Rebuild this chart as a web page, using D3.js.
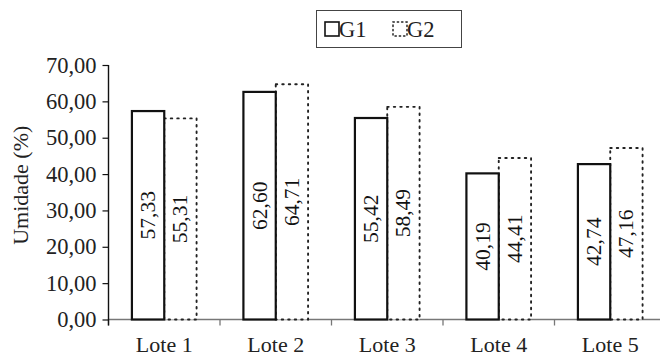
<!DOCTYPE html>
<html>
<head>
<meta charset="utf-8">
<script src="https://cdn.jsdelivr.net/npm/d3@7"></script>
<style>
  html, body { margin: 0; padding: 0; background: #fff; }
  svg { display: block; }
  svg text { font-family: "Liberation Serif", "Times New Roman", "DejaVu Serif", serif; }
</style>
</head>
<body>
<svg id="chart" width="660" height="358"></svg>
<script>
// Moisture per batch, two groups
const categories = ["Lote 1", "Lote 2", "Lote 3", "Lote 4", "Lote 5"];
const seriesNames = ["G1", "G2"];
const g1Values = [57.33, 62.60, 55.42, 40.19, 42.74];
const g2Values = [55.31, 64.71, 58.49, 44.41, 47.16];
const yTicks = [0, 10, 20, 30, 40, 50, 60, 70];
const yTitle = "Umidade (%)";

const ptBR = d3.formatLocale({ decimal: ",", thousands: ".", grouping: [3], currency: ["R$", ""] });
const fmt = ptBR.format(".2f");

const svg = d3.select("#chart");
const plotLeft = 108.5, plotBottom = 319.5, plotTop = 65;
const step = 111.5;
const plotRight = plotLeft + step * categories.length;

const x0 = d3.scaleBand().domain(categories).range([plotLeft, plotRight])
  .paddingInner(0.42).paddingOuter(0.21);
const x1 = d3.scaleBand().domain(seriesNames).range([0, x0.bandwidth()]);
const y = d3.scaleLinear().domain([0, 70]).range([plotBottom, plotTop]);

const rows = categories.map((c, i) => ({ cat: c, G1: g1Values[i], G2: g2Values[i] }));

const styles = {
  G1: { stroke: "#111", width: 2.2, dash: null },
  G2: { stroke: "#222", width: 1.9, dash: "1.5,5" }
};

// x axis line and boundary ticks
svg.append("line")
  .attr("x1", plotLeft).attr("x2", plotRight)
  .attr("y1", plotBottom).attr("y2", plotBottom)
  .attr("stroke", "#777").attr("stroke-width", 1.6);
const bounds = d3.range(categories.length + 1).map(i => plotLeft + i * step);
svg.selectAll("line.xt").data(bounds).join("line")
  .attr("class", "xt")
  .attr("x1", d => d).attr("x2", d => d)
  .attr("y1", plotBottom).attr("y2", plotBottom + 6)
  .attr("stroke", "#777").attr("stroke-width", 1.3);

// bars
const groups = svg.selectAll("g.cat").data(rows).join("g")
  .attr("class", "cat")
  .attr("transform", d => `translate(${x0(d.cat)},0)`);

seriesNames.slice().reverse().forEach(s => {
  groups.append("rect")
    .attr("x", x1(s))
    .attr("y", d => y(d[s]))
    .attr("width", x1.bandwidth())
    .attr("height", d => y(0) - y(d[s]))
    .attr("fill", "#fff")
    .attr("stroke", styles[s].stroke)
    .attr("stroke-width", styles[s].width)
    .attr("stroke-dasharray", styles[s].dash)
    .attr("stroke-linecap", s === "G2" ? "round" : "butt");
});

// value labels inside the bars
seriesNames.forEach(s => {
  groups.append("text")
    .attr("transform", d => `translate(${x1(s) + x1.bandwidth() / 2},${(y(d[s]) + y(0)) / 2}) rotate(-90)`)
    .attr("text-anchor", "middle")
    .attr("dominant-baseline", "central")
    .attr("font-size", 21.5)
    .attr("fill", "#111")
    .text(d => fmt(d[s]));
});

// y axis
const yAxis = svg.append("g")
  .attr("transform", `translate(${plotLeft},0)`)
  .call(d3.axisLeft(y).tickValues(yTicks).tickFormat(fmt).tickSize(6).tickPadding(6));
yAxis.select(".domain").attr("stroke", "#111").attr("stroke-width", 1.4).attr("d", `M0,${plotTop}V${plotBottom + 6}`);
yAxis.selectAll(".tick line").attr("stroke", "#111").attr("stroke-width", 1.2);
yAxis.selectAll(".tick text")
  .attr("font-size", 22.5).attr("fill", "#222");

// category labels
svg.selectAll("text.cat").data(categories).join("text")
  .attr("class", "cat")
  .attr("x", d => x0(d) + x0.bandwidth() / 2)
  .attr("y", 352)
  .attr("text-anchor", "middle")
  .attr("font-size", 22).attr("fill", "#222")
  .text(d => d);

// y title
svg.append("text")
  .attr("transform", `translate(28,${(plotTop + plotBottom) / 2 - 7}) rotate(-90)`)
  .attr("text-anchor", "middle")
  .attr("font-size", 22).attr("fill", "#222")
  .text(yTitle);

// legend
const lg = svg.append("g");
lg.append("rect").attr("x", 316.5).attr("y", 10.5).attr("width", 145).attr("height", 37)
  .attr("fill", "#fff").attr("stroke", "#444").attr("stroke-width", 1);
const legendItems = [{ s: "G1", x: 325 }, { s: "G2", x: 393 }];
legendItems.forEach(it => {
  lg.append("rect").attr("x", it.x).attr("y", 22).attr("width", 14).attr("height", 14)
    .attr("fill", "#fff")
    .attr("stroke", styles[it.s].stroke)
    .attr("stroke-width", it.s === "G1" ? 1.6 : 1.5)
    .attr("stroke-dasharray", it.s === "G1" ? null : "1.3,3")
    .attr("stroke-linecap", "round");
  lg.append("text").attr("x", it.x + 14).attr("y", 37)
    .attr("font-size", 22.5).attr("fill", "#222")
    .text(it.s);
});
</script>
</body>
</html>
